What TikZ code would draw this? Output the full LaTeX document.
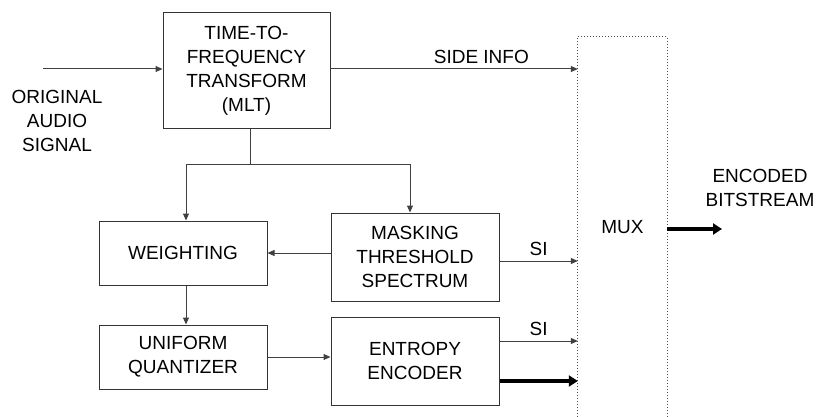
\documentclass[tikz,border=0pt]{standalone}
\usepackage{fontspec}
\setmainfont{Liberation Sans}
\usepackage{tikz}
\usetikzlibrary{arrows.meta}

\begin{document}
\begin{tikzpicture}[x=1pt,y=-1pt,font=\fontsize{19}{24}\selectfont,
blk/.style n args={2}{draw=black!80,line width=1pt,minimum width=#1pt,minimum height=#2pt,align=center,inner sep=0pt},
sig/.style={draw=black!75,line width=1pt,-{Triangle[length=7pt,width=6pt]}},
bus/.style={draw=black,line width=4pt,-{Triangle[length=9pt,width=11pt]}}]
\useasboundingbox (0,0) rectangle (817,417);
% blocks
\node[blk={167}{116}] (ttf) at (246.5,71) {TIME-TO-\\FREQUENCY\\TRANSFORM\\(MLT)};
\node[blk={168}{64}] (wgt) at (183,253) {WEIGHTING};
\node[blk={168}{88}] (msk) at (415,257) {MASKING\\THRESHOLD\\SPECTRUM};
\node[blk={168}{64}] (uq) at (183,357) {UNIFORM\\QUANTIZER};
\node[blk={168}{88}] (ent) at (415,361) {ENTROPY\\ENCODER};
\node[minimum width=89pt,minimum height=380pt,inner sep=0pt] (mux) at (622.5,227) {MUX};
\draw[black!70,line width=1pt,dotted] (mux.south west) -- (mux.north west) -- (mux.north east) -- (mux.south east);
% input / output
\coordinate (in) at (43,69);
\node[align=center] (src) at (57,121) {ORIGINAL\\AUDIO\\SIGNAL};
\coordinate (out) at (722,229);
\node[align=center] (dst) at (760,188) {ENCODED\\BITSTREAM};
\draw[sig] (in) -- (in -| ttf.west);
\draw[bus] (mux.east |- out) -- (out);
% connections
\draw[sig] (ttf.east |- in) -- node[pos=0.61,above=1pt]{SIDE INFO} (in -| mux.west);
\coordinate (split) at (250,165);
\draw[black!75,line width=1pt] (ttf.south -| split) -- (split);
\draw[sig] (split) -| ([xshift=3pt]wgt.north);
\draw[sig] (split) -| ([xshift=-5pt]msk.north);
\draw[sig] ([yshift=4pt]msk.west) -- ([yshift=4pt]msk.west -| wgt.east);
\draw[sig] ([xshift=3pt]wgt.south) -- ([xshift=3pt]uq.north);
\draw[sig] (uq.east) -- (uq.east -| ent.west);
\draw[sig] ([yshift=-4pt]msk.east) -- node[above=1pt]{SI} ([yshift=-4pt]msk.east -| mux.west);
\draw[sig] ([yshift=20pt]ent.east) -- node[above=1pt]{SI} ([yshift=20pt]ent.east -| mux.west);
\draw[bus] ([yshift=-20pt]ent.east) -- ([yshift=-20pt]ent.east -| mux.west);
\end{tikzpicture}
\end{document}
